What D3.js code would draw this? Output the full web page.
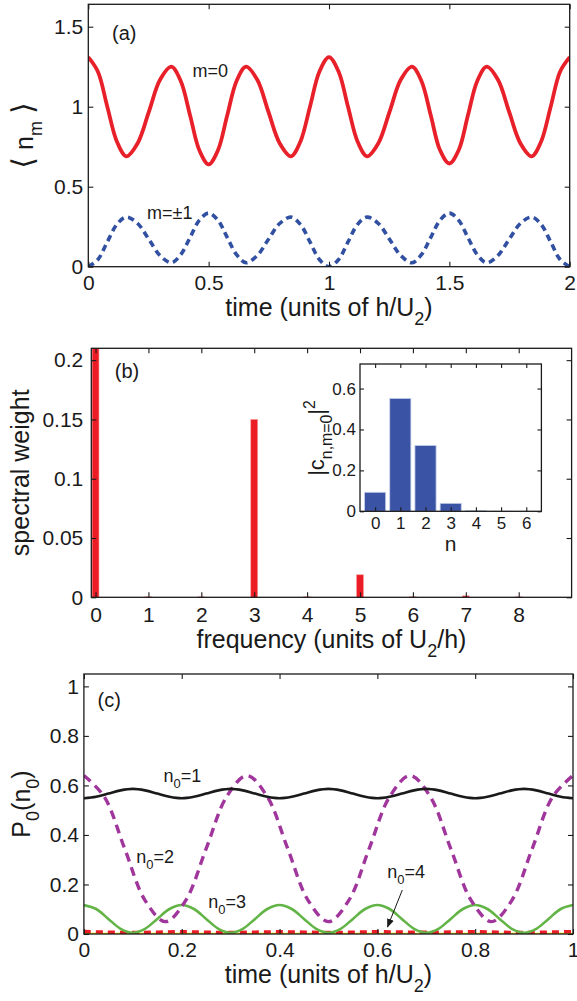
<!DOCTYPE html>
<html>
<head>
<meta charset="utf-8">
<script src="https://cdn.jsdelivr.net/npm/d3@7"></script>
<style>
body { margin: 0; background: #fff; }
svg text { font-family: "Liberation Sans", Arial, Helvetica, "DejaVu Sans", sans-serif; fill: #1a1a1a; }
.frame { fill: none; stroke: #1a1a1a; stroke-width: 1.3; }
.bracket { font-family: "DejaVu Sans", sans-serif; }
</style>
</head>
<body>
<svg id="fig" width="577" height="1001"></svg>
<script>

// ---- values ---------------------------------------------------------------

// (a) <n_m> against time (units of h/U2)
const timeA = [0, 0.04, 0.079, 0.119, 0.158, 0.205, 0.252, 0.298, 0.345, 0.384, 0.423, 0.461, 0.5,
               0.539, 0.577, 0.616, 0.655, 0.702, 0.748, 0.795, 0.842, 0.881, 0.921, 0.96, 1.0,
               1.04, 1.079, 1.119, 1.158, 1.205, 1.252, 1.298, 1.345, 1.384, 1.423, 1.461, 1.5,
               1.539, 1.577, 1.616, 1.655, 1.702, 1.748, 1.795, 1.842, 1.881, 1.921, 1.96, 2.0];
const occM0 = [1.31, 1.219, 1.0, 0.781, 0.69, 0.772, 0.97, 1.168, 1.25, 1.161, 0.945, 0.729, 0.64,
               0.729, 0.945, 1.161, 1.25, 1.168, 0.97, 0.772, 0.69, 0.781, 1.0, 1.219, 1.31,
               1.219, 1.0, 0.781, 0.69, 0.772, 0.97, 1.168, 1.25, 1.161, 0.945, 0.729, 0.645,
               0.729, 0.945, 1.161, 1.25, 1.168, 0.97, 0.772, 0.69, 0.781, 1.0, 1.219, 1.31];
const occM1 = [0, 0.045, 0.155, 0.265, 0.31, 0.27, 0.17, 0.07, 0.025, 0.075, 0.183, 0.29, 0.335,
               0.29, 0.183, 0.075, 0.025, 0.07, 0.17, 0.27, 0.31, 0.265, 0.155, 0.045, 0,
               0.045, 0.155, 0.265, 0.31, 0.27, 0.17, 0.07, 0.025, 0.075, 0.183, 0.29, 0.335,
               0.29, 0.183, 0.075, 0.025, 0.07, 0.17, 0.27, 0.31, 0.265, 0.155, 0.045, 0];
const ticksA_x = [0, 0.5, 1, 1.5, 2];
const ticksA_y = [0, 0.5, 1, 1.5];

// (b) spectral weight against frequency (units of U2/h); the bar at 0 runs off the top
const freqB   = [0, 1, 2, 3, 4, 5, 6, 7, 8];
const weightB = [0.43, 0.0004, 0.0004, 0.15, 0.0004, 0.019, 0.0004, 0.0012, 0.0004];
const ticksB_x = [0, 1, 2, 3, 4, 5, 6, 7, 8];
const ticksB_y = [0, 0.05, 0.1, 0.15, 0.2];

// (b) inset |c_{n,m=0}|^2
const levelN = [0, 1, 2, 3, 4, 5, 6];
const coefN  = [0.093, 0.552, 0.322, 0.039, 0.004, 0.0005, 0.0001];
const ticksI_y = [0, 0.2, 0.4, 0.6];

// (c) P0(n0) against time
const timeC = [0, 0.025, 0.05, 0.075, 0.1, 0.125, 0.15, 0.175, 0.2, 0.225, 0.25, 0.275, 0.3, 0.325,
               0.35, 0.375, 0.4, 0.425, 0.45, 0.475, 0.5, 0.525, 0.55, 0.575, 0.6, 0.625, 0.65,
               0.675, 0.7, 0.725, 0.75, 0.775, 0.8, 0.825, 0.85, 0.875, 0.9, 0.925, 0.95, 0.975, 1.0];
const probN1 = [0.548, 0.554, 0.567, 0.58, 0.586, 0.58, 0.567, 0.554, 0.548, 0.554, 0.567, 0.58, 0.586, 0.58,
                0.567, 0.554, 0.548, 0.554, 0.567, 0.58, 0.586, 0.58, 0.567, 0.554, 0.548, 0.554, 0.567,
                0.58, 0.586, 0.58, 0.567, 0.554, 0.548, 0.554, 0.567, 0.58, 0.586, 0.58, 0.567, 0.554, 0.548];
const probN3 = [0.117, 0.101, 0.061, 0.021, 0.005, 0.021, 0.061, 0.101, 0.117, 0.101, 0.061, 0.021, 0.005, 0.021,
                0.061, 0.101, 0.117, 0.101, 0.061, 0.021, 0.005, 0.021, 0.061, 0.101, 0.117, 0.101, 0.061,
                0.021, 0.005, 0.021, 0.061, 0.101, 0.117, 0.101, 0.061, 0.021, 0.005, 0.021, 0.061, 0.101, 0.117];
const timeC2 = [0, 0.0417, 0.0833, 0.125, 0.1667, 0.2083, 0.25, 0.2917, 0.3333, 0.375, 0.4167, 0.4583, 0.5,
                0.5417, 0.5833, 0.625, 0.6667, 0.7083, 0.75, 0.7917, 0.8333, 0.875, 0.9167, 0.9583, 1.0];
const probN2 = [0.64, 0.554, 0.345, 0.136, 0.05, 0.136, 0.345, 0.554, 0.64, 0.554, 0.345, 0.136, 0.05,
                0.136, 0.345, 0.554, 0.64, 0.554, 0.345, 0.136, 0.05, 0.136, 0.345, 0.554, 0.64];
const timeC4 = [0, 0.1, 0.2, 0.3, 0.4, 0.5, 0.6, 0.7, 0.8, 0.9, 1.0];
const probN4 = [0.01, 0.006, 0.009, 0.006, 0.009, 0.006, 0.009, 0.007, 0.009, 0.006, 0.01];
const timeC0 = [0, 1];
const probN0 = [0.001, 0.001];
const ticksC = [0, 0.2, 0.4, 0.6, 0.8, 1];

//-------------------------------------------------------------------------------

const svg = d3.select('#fig');
const TICK_FONT = 21, LABEL_FONT = 25;
const fmt = d3.format('~g');

// strip d3's own axis styling so the page css wins
function Tidy(sel, size) {
    sel.attr('font-family', null).attr('font-size', null);
    sel.select('.domain').remove();
    sel.selectAll('text').attr('font-size', size || TICK_FONT).attr('fill', '#1a1a1a');
    sel.selectAll('line').attr('stroke', '#1a1a1a').attr('stroke-width', 1.1);
}

//-------------------------------------------------------------------------------
// Matlab-style box: inward ticks on all four sides, labels bottom and left only

function DrawFrame(g, x, y, xTicks, yTicks, o) {
    const [x0, x1] = x.range(), [y0, y1] = y.range();
    const t = o.tick || 5;

    g.append('g').attr('transform', `translate(0,${y0})`)
        .call(d3.axisBottom(x).tickValues(xTicks).tickSizeInner(-t).tickSizeOuter(0)
              .tickPadding(o.padX).tickFormat(fmt))
        .call(Tidy, o.font);
    g.append('g').attr('transform', `translate(0,${y1})`)
        .call(d3.axisTop(x).tickValues(xTicks).tickSizeInner(-t).tickSizeOuter(0).tickFormat(''))
        .call(Tidy);
    g.append('g').attr('transform', `translate(${x0},0)`)
        .call(d3.axisLeft(y).tickValues(yTicks).tickSizeInner(-t).tickSizeOuter(0)
              .tickPadding(o.padY).tickFormat(fmt))
        .call(Tidy, o.font);
    g.append('g').attr('transform', `translate(${x1},0)`)
        .call(d3.axisRight(y).tickValues(yTicks).tickSizeInner(-t).tickSizeOuter(0).tickFormat(''))
        .call(Tidy);

    g.append('rect').attr('class', 'frame')
        .attr('x', x0).attr('y', y1).attr('width', x1 - x0).attr('height', y0 - y1);
}

//-------------------------------------------------------------------------------
// text with sub/superscripts: parts = [{t, sub|sup|cls|size}]

function RichText(g, x, y, parts, size, anchor) {
    const txt = g.append('text').attr('x', x).attr('y', y)
        .attr('font-size', size).attr('text-anchor', anchor || 'start');
    let shift = 0;
    parts.forEach(p => {
        const want = p.sub ? size * 0.36 : p.sup ? -size * 0.42 : 0;
        txt.append('tspan').attr('dy', want - shift)
            .attr('class', p.cls || null)
            .attr('font-size', p.size || ((p.sub || p.sup) ? size * 0.72 : size))
            .text(p.t);
        shift = want;
    });
    return txt;
}

function YLabel(g, x, y, parts, size) {
    const h = g.append('g').attr('transform', `translate(${x},${y}) rotate(-90)`);
    RichText(h, 0, 0, parts, size, 'middle');
}

function Curve(g, x, y, xs, ys, style) {
    const line = d3.line().curve(d3.curveCatmullRom.alpha(0.5))
        .x(i => x(xs[i])).y(i => y(ys[i]));
    return g.append('path')
        .attr('d', line(d3.range(xs.length)))
        .attr('fill', 'none')
        .attr('stroke', style.color)
        .attr('stroke-width', style.width)
        .attr('stroke-dasharray', style.dash || null)
        .attr('stroke-linejoin', 'round');
}

function ClipTo(id, x, y) {
    const [x0, x1] = x.range(), [y0, y1] = y.range();
    svg.append('clipPath').attr('id', id).append('rect')
        .attr('x', x0).attr('y', y1).attr('width', x1 - x0).attr('height', y0 - y1);
    return `url(#${id})`;
}

//-------------------------------------------------------------------------------
// panel (a)

const xA = d3.scaleLinear().domain([0, 2]).range([88.3, 569.7]);
const yA = d3.scaleLinear().domain([0, 1.64]).range([266.7, 4.3]);
const gA = svg.append('g');
const gAplot = gA.append('g').attr('clip-path', ClipTo('clipA', xA, yA));

Curve(gAplot, xA, yA, timeA, occM0, { color: '#e8202a', width: 3.8 });
Curve(gAplot, xA, yA, timeA, occM1, { color: '#3150a2', width: 3.6, dash: '6.5,4.5' });
DrawFrame(gA, xA, yA, ticksA_x, ticksA_y, { padX: 8, padY: 5 });

gA.append('text').attr('x', 112).attr('y', 40).attr('font-size', 20).text('(a)');
gA.append('text').attr('x', 192.5).attr('y', 77).attr('font-size', 18).text('m=0');
gA.append('text').attr('x', 147).attr('y', 219).attr('font-size', 18).text('m=\u00b11');
RichText(gA, d3.mean(xA.range()), 316,
    [{ t: 'time (units of h/U' }, { t: '2', sub: true }, { t: ')' }], LABEL_FONT, 'middle');
YLabel(gA, 33, d3.mean(yA.range()),
    [{ t: '\u27e8', cls: 'bracket', size: 30 }, { t: ' n' }, { t: 'm', sub: true },
     { t: ' ' }, { t: '\u27e9', cls: 'bracket', size: 30 }], LABEL_FONT);

//-------------------------------------------------------------------------------
// panel (b)

const xB = d3.scaleLinear().domain([-0.08, 9]).range([91.3, 571.6]);
const yB = d3.scaleLinear().domain([0, 0.21]).range([597.3, 348.3]);
const gB = svg.append('g');
const gBplot = gB.append('g').attr('clip-path', ClipTo('clipB', xB, yB));
const barB = 0.13;

gBplot.selectAll('rect.spec')
    .data(freqB.map((f, i) => ({ f, w: weightB[i] })))
    .join('rect')
    .attr('class', 'spec')
    .attr('x', d => xB(d.f - barB / 2))
    .attr('width', d => xB(d.f + barB / 2) - xB(d.f - barB / 2))
    .attr('y', d => yB(d.w))
    .attr('height', d => yB(0) - yB(d.w))
    .attr('fill', '#ec1c24')
    .attr('stroke', '#f59a9a').attr('stroke-width', 0.6);

DrawFrame(gB, xB, yB, ticksB_x, ticksB_y, { padX: 10, padY: 8 });
gB.append('text').attr('x', 114.8).attr('y', 378).attr('font-size', 20).text('(b)');
RichText(gB, d3.mean(xB.range()), 648,
    [{ t: 'frequency (units of U' }, { t: '2', sub: true }, { t: '/h)' }], LABEL_FONT, 'middle');
YLabel(gB, 29, d3.mean(yB.range()), [{ t: 'spectral weight' }], LABEL_FONT);

// inset
const xI = d3.scaleLinear().domain([-0.6, 6.6]).range([360, 541.4]);
const yI = d3.scaleLinear().domain([0, 0.72]).range([511.3, 364]);
const gI = svg.append('g');
gI.append('rect').attr('x', 360).attr('y', 364).attr('width', 181.4).attr('height', 147.3).attr('fill', '#fff');
const barI = 0.84;

gI.selectAll('rect.coef')
    .data(levelN.map((n, i) => ({ n, c: coefN[i] })))
    .join('rect')
    .attr('class', 'coef')
    .attr('x', d => xI(d.n - barI / 2))
    .attr('width', d => xI(d.n + barI / 2) - xI(d.n - barI / 2))
    .attr('y', d => yI(d.c))
    .attr('height', d => yI(0) - yI(d.c))
    .attr('fill', '#3a53a4')
    .attr('stroke', '#c9d1ea').attr('stroke-width', 0.8);

DrawFrame(gI, xI, yI, levelN, ticksI_y, { padX: 6, padY: 4, tick: 4, font: 17 });
gI.append('text').attr('x', d3.mean(xI.range())).attr('y', 551).attr('font-size', 21)
    .attr('text-anchor', 'middle').text('n');
YLabel(gI, 324, 438, [{ t: '|c' }, { t: 'n,m=0', sub: true }, { t: '|' }, { t: '2', sup: true }], 22);

//-------------------------------------------------------------------------------
// panel (c)

const xC = d3.scaleLinear().domain([0, 1]).range([83.9, 573]);
const yC = d3.scaleLinear().domain([0, 1.05]).range([934, 674]);
const gC = svg.append('g');
const gCplot = gC.append('g').attr('clip-path', ClipTo('clipC', xC, yC));

Curve(gCplot, xC, yC, timeC0, probN0, { color: '#f2e600', width: 2.2 });
Curve(gCplot, xC, yC, timeC4, probN4, { color: '#ec1c24', width: 3.4, dash: '7,5' });
Curve(gCplot, xC, yC, timeC, probN3, { color: '#63b446', width: 2.6 });
Curve(gCplot, xC, yC, timeC2, probN2, { color: '#a0369c', width: 3.4, dash: '9,6' });
Curve(gCplot, xC, yC, timeC, probN1, { color: '#1a1a1a', width: 2.6 });
DrawFrame(gC, xC, yC, ticksC, ticksC, { padX: 8, padY: 5 });

gC.append('text').attr('x', 97.5).attr('y', 707).attr('font-size', 20).text('(c)');
RichText(gC, 163.4, 782, [{ t: 'n' }, { t: '0', sub: true }, { t: '=1' }], 18);
RichText(gC, 136.2, 863, [{ t: 'n' }, { t: '0', sub: true }, { t: '=2' }], 18);
RichText(gC, 208.3, 908, [{ t: 'n' }, { t: '0', sub: true }, { t: '=3' }], 18);
RichText(gC, 387.2, 878, [{ t: 'n' }, { t: '0', sub: true }, { t: '=4' }], 18);

svg.append('defs').append('marker')
    .attr('id', 'head').attr('viewBox', '0 0 10 10').attr('refX', 9).attr('refY', 5)
    .attr('markerWidth', 9).attr('markerHeight', 9).attr('orient', 'auto')
    .append('path').attr('d', 'M0,1 L10,5 L0,9 Z').attr('fill', '#1a1a1a');
gC.append('line')
    .attr('x1', 402.3).attr('y1', 890).attr('x2', 387.5).attr('y2', 927)
    .attr('stroke', '#1a1a1a').attr('stroke-width', 1).attr('marker-end', 'url(#head)');

RichText(gC, d3.mean(xC.range()), 983,
    [{ t: 'time (units of h/U' }, { t: '2', sub: true }, { t: ')' }], LABEL_FONT, 'middle');
YLabel(gC, 30, d3.mean(yC.range()),
    [{ t: 'P' }, { t: '0', sub: true }, { t: '(n' }, { t: '0', sub: true }, { t: ')' }], LABEL_FONT);

</script>
</body>
</html>
